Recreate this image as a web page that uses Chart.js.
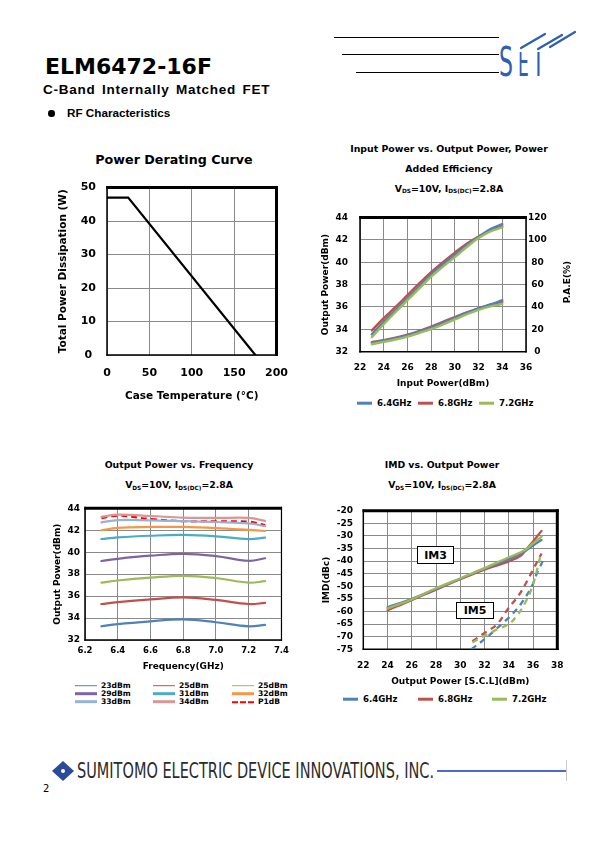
<!DOCTYPE html>
<html><head><meta charset="utf-8">
<script src="https://cdn.jsdelivr.net/npm/chart.js@4.4.0/dist/chart.umd.min.js"></script>
<style>
body{margin:0;width:595px;height:842px;position:relative;background:#fff;font-family:"DejaVu Sans",sans-serif;overflow:hidden}
canvas{position:absolute}
.t{position:absolute;white-space:nowrap;font-weight:bold;color:#000;line-height:1;transform:translate(-50%,-50%)}
.l{position:absolute;white-space:nowrap;color:#000;line-height:1;transform:translate(0,-50%)}
.sb{font-size:62%;position:relative;top:0.3em}
.hl{position:absolute;height:1.3px;background:#000}
.lg{position:absolute;display:flex;align-items:center;white-space:nowrap;font-weight:bold;line-height:1;transform:translateY(-50%)}
.lg i{display:inline-block;margin-right:4px}
.box{position:absolute;border:1.3px solid #000;background:#fff;font-weight:bold;font-size:11px;display:flex;align-items:center;justify-content:center;box-sizing:border-box}
</style></head><body>

<!-- header -->
<div class="l" style="left:45px;top:67px;font-size:22px;font-weight:bold">ELM6472-16F</div>
<div class="l" style="left:43px;top:90px;font-family:'Liberation Sans';font-weight:bold;font-size:13.5px;letter-spacing:0.75px;word-spacing:2px">C-Band Internally Matched FET</div>
<div style="position:absolute;left:48px;top:110px;width:6.5px;height:6.5px;border-radius:50%;background:#000"></div>
<div class="l" style="left:67px;top:113px;font-family:'Liberation Sans';font-weight:bold;font-size:11.7px">RF Characteristics</div>
<div class="hl" style="left:334px;top:37px;width:165px"></div>
<div class="hl" style="left:342px;top:54px;width:157px"></div>
<div class="hl" style="left:356px;top:72px;width:143px"></div>
<svg style="position:absolute;left:495px;top:22px" width="90" height="60" viewBox="495 22 90 60">
  <defs><clipPath id="ce"><rect x="515" y="52" width="60" height="30"/></clipPath></defs>
  <g fill="#2f5fb3" font-family="DejaVu Sans">
    <text x="499" y="76" font-size="40" transform="translate(499 0) scale(0.55 1) translate(-499 0)">S</text>
    <text x="518" y="76" font-size="38" clip-path="url(#ce)" transform="translate(518 0) scale(0.45 1) translate(-518 0)">E</text>
    <text x="532" y="76" font-size="38" clip-path="url(#ce)" transform="translate(532 0) scale(0.55 1) translate(-532 0)">T</text>
  </g>
  <g stroke="#2f5fb3" stroke-width="2.2" fill="none" stroke-linecap="round">
    <line x1="521" y1="48" x2="545" y2="34"/>
    <line x1="538" y1="49" x2="562" y2="35"/>
    <line x1="550" y1="47" x2="575" y2="32"/>
  </g>
</svg>

<!-- chart 1 -->
<div class="t" style="left:174px;top:160px;font-size:12.7px">Power Derating Curve</div>
<canvas id="c1" width="260" height="240" style="left:40px;top:170px"></canvas>

<!-- chart 2 -->
<div class="t" style="left:449px;top:149px;font-size:9.4px">Input Power vs. Output Power, Power</div>
<div class="t" style="left:449px;top:168.5px;font-size:9.4px">Added Efficiency</div>
<div class="t" style="left:449px;top:188.5px;font-size:9.4px">V<span class="sb">DS</span>=10V, I<span class="sb">DS(DC)</span>=2.8A</div>
<canvas id="c2" width="270" height="195" style="left:310px;top:200px"></canvas>
<div class="t" style="left:567px;top:282px;font-size:9px;transform:translate(-50%,-50%) rotate(-90deg)">P.A.E(%)</div>
<div id="lg2"></div>

<!-- chart 3 -->
<div class="t" style="left:179px;top:465px;font-size:9.3px">Output Power vs. Frequency</div>
<div class="t" style="left:179px;top:485px;font-size:9.3px">V<span class="sb">DS</span>=10V, I<span class="sb">DS(DC)</span>=2.8A</div>
<canvas id="c3" width="255" height="180" style="left:40px;top:495px"></canvas>
<div id="lg3"></div>

<!-- chart 4 -->
<div class="t" style="left:442px;top:465px;font-size:9.3px">IMD vs. Output Power</div>
<div class="t" style="left:442px;top:485px;font-size:9.3px">V<span class="sb">DS</span>=10V, I<span class="sb">DS(DC)</span>=2.8A</div>
<canvas id="c4" width="270" height="195" style="left:310px;top:495px"></canvas>
<div class="box" style="left:417px;top:546px;width:37px;height:18px">IM3</div>
<div class="box" style="left:456px;top:602px;width:38px;height:17px">IM5</div>
<div id="lg4"></div>

<!-- footer -->
<svg style="position:absolute;left:50px;top:760px" width="26" height="22" viewBox="0 0 26 22">
  <path d="M13 1 L24 11 L13 21 L2 11 Z" fill="#2a4a9c"/>
  <circle cx="13" cy="11" r="2" fill="#fff"/>
</svg>
<div id="foot" class="l" style="left:77px;top:771px;font-family:'DejaVu Sans';font-size:21px;color:#2b2b2b;transform-origin:0 50%">SUMITOMO ELECTRIC DEVICE INNOVATIONS, INC.</div>
<div style="position:absolute;left:437px;top:769.5px;width:129px;height:2.6px;background:#4a6bd6"></div>
<div style="position:absolute;left:566px;top:760px;width:1px;height:21px;background:#c8c8c8"></div>
<div class="l" style="left:43px;top:789px;font-size:10px">2</div>

<script>
// ---------------- DATA ----------------
// Power derating curve
const derateTemp  = [0, 25, 175];
const deratePower = [47, 47, 0];

// Input power vs output power / PAE
const pinDbm  = [23, 24, 25, 26, 27, 28, 29, 30, 31, 32, 33, 34];
const pout64  = [33.55, 34.7, 35.75, 36.8, 37.85, 38.9, 39.8, 40.65, 41.5, 42.25, 42.95, 43.4];
const pout68  = [33.9, 35.0, 36.0, 37.05, 38.1, 39.1, 40.0, 40.85, 41.65, 42.3, 42.85, 43.2];
const pout72  = [33.3, 34.45, 35.55, 36.6, 37.65, 38.7, 39.6, 40.45, 41.35, 42.15, 42.75, 43.1];
const pae64   = [8.0, 9.9, 12.0, 14.6, 18.0, 21.6, 25.8, 30.2, 34.7, 38.6, 42.2, 46.0];
const pae68   = [8.6, 10.3, 12.5, 15.2, 18.6, 22.4, 26.6, 31.0, 35.2, 38.8, 41.8, 44.6];
const pae72   = [6.7, 8.8, 10.9, 13.5, 16.7, 20.2, 24.3, 28.8, 33.4, 37.4, 40.5, 42.6];
const freqLabels = ['6.4GHz', '6.8GHz', '7.2GHz'];

// Output power vs frequency
const freqGHz = [6.3, 6.4, 6.6, 6.8, 7.0, 7.2, 7.3];
const op23   = [33.25, 33.45, 33.7, 33.88, 33.62, 33.25, 33.38];
const op25   = [35.28, 35.45, 35.7, 35.88, 35.65, 35.28, 35.38];
const op27   = [37.22, 37.42, 37.68, 37.85, 37.65, 37.22, 37.36];
const op29   = [39.2, 39.4, 39.68, 39.85, 39.65, 39.22, 39.45];
const op31   = [41.2, 41.35, 41.5, 41.57, 41.45, 41.2, 41.32];
const op32   = [42.0, 42.22, 42.3, 42.3, 42.2, 42.03, 41.93];
const op33   = [42.72, 42.92, 42.9, 42.83, 42.75, 42.62, 42.38];
const op34   = [43.22, 43.42, 43.3, 43.15, 43.12, 43.12, 42.86];
const opP1dB = [43.1, 43.33, 43.02, 42.83, 42.8, 42.78, 42.47];
const opLabels = ['23dBm', '25dBm', '25dBm', '29dBm', '31dBm', '32dBm', '33dBm', '34dBm', 'P1dB'];

// IMD vs output power
const im3Pout = [24, 26, 28, 30, 32, 34, 35, 35.5, 36, 36.7];
const im3_64  = [-58.3, -55.0, -51.0, -47.0, -43.0, -39.2, -37.0, -35.5, -33.8, -31.6];
const im3_68  = [-59.5, -55.5, -51.3, -47.2, -43.4, -40.1, -37.8, -35.0, -32.2, -28.0];
const im3_72  = [-58.8, -55.2, -50.8, -46.8, -42.8, -38.5, -36.5, -35.0, -33.0, -30.3];
const im5Pout64 = [30.9, 32, 32.8, 33.6, 34.3, 35, 35.9, 36.3, 36.8];
const im5_64    = [-75, -71, -67.6, -64.2, -61, -57, -50, -45, -40];
const im5Pout68 = [31, 32, 33, 34, 34.8, 35.5, 36.2, 36.7];
const im5_68    = [-71.8, -68.5, -65.2, -58.5, -53.7, -48, -41.5, -37];
const im5Pout72 = [31, 32, 33, 34, 34.7, 35.3, 35.8, 36.2, 36.6];
const im5_72    = [-72.3, -69.6, -67.2, -65, -61.5, -57, -52, -46, -38];

// ---------------- STYLE / HELPERS ----------------
const F = 'DejaVu Sans';
const C64 = '#4f81bd', C68 = '#c0504d', C72 = '#9bbb59';
const pts = (xs, ys) => xs.map((x, i) => ({x, y: ys[i]}));

const framePlugin = {
  id: 'frame',
  beforeDatasetsDraw(chart, args, o) {
    const {ctx, chartArea: a} = chart;
    ctx.save();
    ctx.strokeStyle = '#000';
    const line = (w, x1, y1, x2, y2) => { if (!w) return; ctx.lineWidth = w; ctx.beginPath(); ctx.moveTo(x1, y1); ctx.lineTo(x2, y2); ctx.stroke(); };
    line(o.left, a.left, a.top - o.top / 2, a.left, a.bottom + o.bottom / 2);
    line(o.right, a.right, a.top - o.top / 2, a.right, a.bottom + o.bottom / 2);
    line(o.top, a.left - o.left / 2, a.top, a.right + o.right / 2, a.top);
    line(o.bottom, a.left - o.left / 2, a.bottom, a.right + o.right / 2, a.bottom);
    ctx.restore();
  }
};

function font(size) { return {family: F, size, weight: 'bold'}; }
function baseOpts(pad, frame) {
  return {
    responsive: false, animation: false, events: [],
    layout: {padding: pad, autoPadding: false},
    plugins: {legend: {display: false}, tooltip: {enabled: false}, frame},
    elements: {point: {radius: 0}, line: {borderCapStyle: 'round'}}
  };
}
function axis(min, max, step, tickFont, pad, fixed, horiz, extra) {
  const s = Object.assign({
    type: 'linear', min, max,
    ticks: {stepSize: step, padding: pad, font: font(tickFont), color: '#000', autoSkip: false, maxRotation: 0},
    grid: {color: '#8a8a8a', lineWidth: 1, drawTicks: false},
    border: {display: false},
    afterFit(sc) { if (horiz) sc.height = fixed; else sc.width = fixed; }
  }, extra || {});
  return s;
}

// ---------------- CHART 1 ----------------
(() => {
  const o = baseOpts({top: 12, right: 16, left: 0, bottom: 0}, {top: 3, right: 3, bottom: 1.5, left: 1.5});
  o.scales = {
    x: axis(0, 200, 50, 11, 12, 55, true, {title: {display: true, text: 'Case Temperature (°C)', font: font(10.5), color: '#000', padding: {top: 0, bottom: 7.5}}}),
    y: axis(0, 50, 10, 11, 11, 67, false, {title: {display: true, text: 'Total Power Dissipation (W)', font: font(10.5), color: '#000', padding: {top: 16.5, bottom: 0}}})
  };
  o.scales.y.ticks.crossAlign = 'center';
  new Chart(document.getElementById('c1'), {
    type: 'line',
    data: {datasets: [{data: pts(derateTemp, deratePower), borderColor: '#000', borderWidth: 2.2, tension: 0}]},
    options: o, plugins: [framePlugin]
  });
})();

// ---------------- CHART 2 ----------------
(() => {
  const o = baseOpts({top: 12.7, right: 0, left: 0, bottom: 0}, {top: 3, right: 1.5, bottom: 1.5, left: 1.5});
  o.scales = {
    x: axis(22, 36, 2, 9, 11, 43.3, true, {title: {display: true, text: 'Input Power(dBm)', font: font(9), color: '#000', padding: {top: 0, bottom: 5.5}}}),
    y: axis(32, 44, 2, 9, 12, 50, false, {title: {display: true, text: 'Output Power(dBm)', font: font(9), color: '#000', padding: {top: 10.5, bottom: 0}}}),
    y2: axis(0, 120, 20, 9, 2, 54, false, {position: 'right'})
  };
  o.scales.y2.ticks.crossAlign = 'center';
  o.scales.y2.grid = {drawOnChartArea: false, drawTicks: false};
  const ds = (d, c, ax) => ({data: d, borderColor: c, borderWidth: 2.4, tension: 0.4, yAxisID: ax});
  new Chart(document.getElementById('c2'), {
    type: 'line',
    data: {datasets: [
      ds(pts(pinDbm, pout72), C72, 'y'), ds(pts(pinDbm, pout64), C64, 'y'), ds(pts(pinDbm, pout68), C68, 'y'),
      ds(pts(pinDbm, pae72), C72, 'y2'), ds(pts(pinDbm, pae64), C64, 'y2'), ds(pts(pinDbm, pae68), C68, 'y2')
    ]},
    options: o, plugins: [framePlugin]
  });
})();

// ---------------- CHART 3 ----------------
const opSeries = [op23, op25, op27, op29, op31, op32, op33, op34, opP1dB];
const opColors = ['#4f81bd', '#c0504d', '#9bbb59', '#8064a2', '#4bacc6', '#f79646', '#95b3d7', '#d99694', '#ff0000'];
(() => {
  const o = baseOpts({top: 13.3, right: 9.3, left: 0, bottom: 0}, {top: 3, right: 1.2, bottom: 1.5, left: 1.5});
  o.scales = {
    x: axis(6.2, 7.4, 0.2, 8.5, 6, 35, true, {title: {display: true, text: 'Frequency(GHz)', font: font(9), color: '#000', padding: {top: 0, bottom: 2.6}}}),
    y: axis(32, 44, 2, 9, 5, 45, false, {title: {display: true, text: 'Output Power(dBm)', font: font(9), color: '#000', padding: {top: 12, bottom: 0}}})
  };
  o.scales.x.ticks.callback = v => Number(v).toFixed(1);
  new Chart(document.getElementById('c3'), {
    type: 'line',
    data: {datasets: opSeries.map((s, i) => ({
      data: pts(freqGHz, s), borderColor: opColors[i], borderWidth: 2.2, tension: 0.4,
      borderDash: i === 8 ? [6, 4] : [], borderCapStyle: i === 8 ? 'butt' : 'round'
    }))},
    options: o, plugins: [framePlugin]
  });
  // legend
  const lg = document.getElementById('lg3');
  const colX = [75, 153, 232], rowY = [686, 694, 702];
  opLabels.forEach((lab, i) => {
    const d = document.createElement('div');
    d.className = 'lg';
    d.style.cssText = `left:${colX[i % 3]}px;top:${rowY[Math.floor(i / 3)]}px;font-size:7.6px`;
    const thin = i < 3;
    const sw = i === 8
      ? `<i style="width:22px;height:0;border-top:2.5px dashed ${opColors[i]}"></i>`
      : `<i style="width:22px;height:${thin ? 1.2 : 2.8}px;background:${opColors[i]}"></i>`;
    d.innerHTML = sw + lab;
    lg.appendChild(d);
  });
})();

// ---------------- CHART 4 ----------------
(() => {
  const o = baseOpts({top: 10, right: 22.7, left: 0, bottom: 0}, {top: 3, right: 3, bottom: 1.5, left: 1.5});
  o.scales = {
    x: axis(22, 38, 2, 9, 11.3, 40.7, true, {title: {display: true, text: 'Output Power [S.C.L](dBm)', font: font(9), color: '#000', padding: {top: 0, bottom: 2.6}}}),
    y: axis(-75, -20, 5, 9, 10.3, 53.3, false, {title: {display: true, text: 'IMD(dBc)', font: font(9), color: '#000', padding: {top: 11.5, bottom: 0}}})
  };
  const ds = (d, c, dash) => ({data: d, borderColor: c, borderWidth: 2.3, tension: 0.35, borderDash: dash ? [6, 5] : [], borderCapStyle: dash ? 'butt' : 'round'});
  new Chart(document.getElementById('c4'), {
    type: 'line',
    data: {datasets: [
      ds(pts(im3Pout, im3_72), C72), ds(pts(im3Pout, im3_64), C64), ds(pts(im3Pout, im3_68), C68),
      ds(pts(im5Pout72, im5_72), C72, true), ds(pts(im5Pout64, im5_64), C64, true), ds(pts(im5Pout68, im5_68), C68, true)
    ]},
    options: o, plugins: [framePlugin]
  });
})();

// ---------------- legends for charts 2 & 4 ----------------
function smallLegend(id, xs, y, size) {
  const host = document.getElementById(id);
  [C64, C68, C72].forEach((c, i) => {
    const d = document.createElement('div');
    d.className = 'lg';
    d.style.cssText = `left:${xs[i]}px;top:${y}px;font-size:${size}px`;
    d.innerHTML = `<i style="width:15px;height:2.6px;background:${c};margin-right:5px"></i>${freqLabels[i]}`;
    host.appendChild(d);
  });
}
smallLegend('lg2', [357, 418, 479], 403, 8.6);
smallLegend('lg4', [343, 418, 492], 699, 8.6);

// footer text fit
(() => {
  const f = document.getElementById('foot');
  const w = f.getBoundingClientRect().width;
  f.style.transform = `translate(0,-50%) scaleX(${357 / w})`;
})();
</script>
</body></html>
